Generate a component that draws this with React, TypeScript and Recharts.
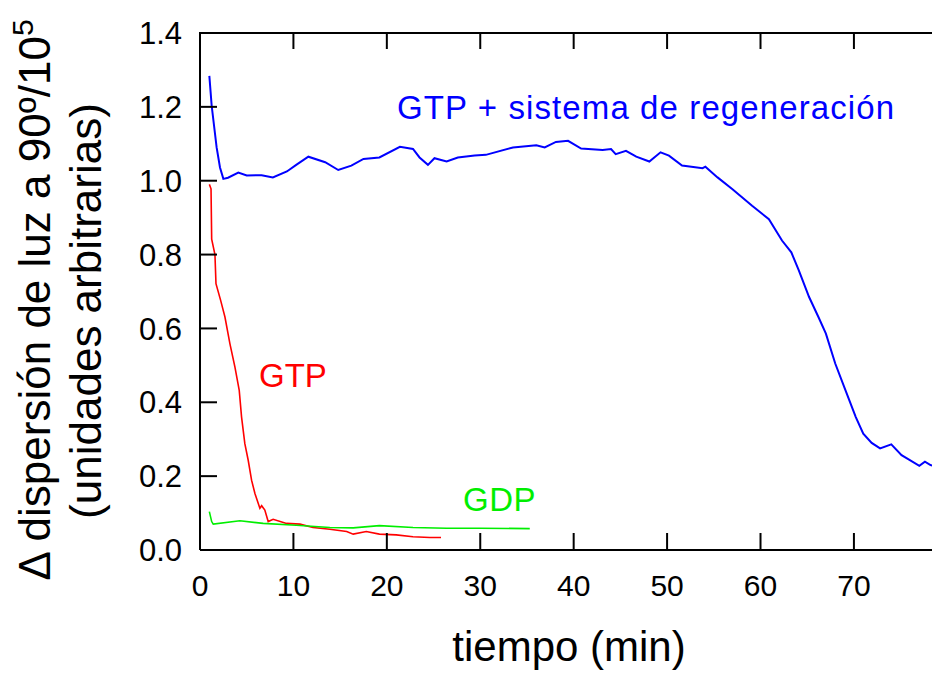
import { LineChart, Line, XAxis, YAxis } from "recharts";

// GTP + sistema de regeneración (blue)
const regenTime = [1.0, 1.25, 1.78, 2.14, 2.5, 3.0, 4.1, 5.0, 6.6, 7.8, 9.3, 10.3, 11.6, 13.4, 14.8, 16.2, 17.5, 19.2, 21.4, 22.8, 23.5, 24.4, 25.1, 26.4, 27.6, 29.4, 30.6, 33.5, 36.0, 36.9, 38.1, 39.4, 40.8, 43.1, 44.0, 44.5, 45.6, 46.7, 48.1, 49.3, 50.2, 51.6, 53.8, 54.1, 55.4, 57.0, 59.1, 60.9, 62.3, 63.3, 64.1, 65.2, 66.2, 67.0, 68.0, 69.1, 70.2, 71.0, 71.9, 72.8, 74.0, 75.1, 75.9, 77.0, 77.6, 78.2, 79.0];
const regenValue = [1.284, 1.203, 1.09, 1.036, 1.005, 1.008, 1.022, 1.014, 1.015, 1.009, 1.025, 1.043, 1.065, 1.05, 1.029, 1.041, 1.059, 1.063, 1.092, 1.086, 1.063, 1.043, 1.061, 1.052, 1.063, 1.068, 1.07, 1.09, 1.096, 1.09, 1.105, 1.108, 1.087, 1.083, 1.086, 1.072, 1.081, 1.065, 1.052, 1.077, 1.068, 1.041, 1.034, 1.038, 1.009, 0.977, 0.932, 0.896, 0.838, 0.806, 0.757, 0.685, 0.631, 0.586, 0.505, 0.432, 0.36, 0.315, 0.29, 0.275, 0.286, 0.257, 0.245, 0.228, 0.239, 0.23, 0.225];

// GTP (red)
const gtpTime = [1.0, 1.18, 1.25, 1.6, 1.71, 2.21, 2.67, 3.2, 3.74, 4.2, 4.45, 4.8, 5.16, 5.52, 5.88, 6.41, 6.6, 6.94, 7.3, 7.83, 9.26, 10.7, 12.1, 13.9, 15.7, 16.4, 17.8, 19.2, 21.0, 22.8, 24.6, 25.8];
const gtpValue = [0.99, 0.978, 0.842, 0.8, 0.721, 0.676, 0.631, 0.559, 0.495, 0.432, 0.36, 0.288, 0.243, 0.189, 0.153, 0.113, 0.12, 0.108, 0.077, 0.083, 0.072, 0.07, 0.061, 0.056, 0.05, 0.043, 0.05, 0.043, 0.041, 0.036, 0.034, 0.034];

// GDP (green)
const gdpTime = [1.0, 1.25, 1.42, 4.27, 6.76, 10.3, 13.9, 16.4, 19.2, 22.8, 26.4, 29.9, 35.3];
const gdpValue = [0.104, 0.077, 0.07, 0.079, 0.072, 0.067, 0.061, 0.06, 0.066, 0.061, 0.059, 0.059, 0.058];

const xTicks = [0, 10, 20, 30, 40, 50, 60, 70];
const yTicks = [0, 0.2, 0.4, 0.6, 0.8, 1.0, 1.2, 1.4];

const toPoints = (ts: number[], vs: number[]) => ts.map((t, i) => ({ t, v: vs[i] }));

const FONT = "'Liberation Sans', Arial, sans-serif";

// plot box (fixed by margins below)
const LEFT = 200;
const RIGHT = 939;
const TOP = 32;
const BOTTOM = 550;
const TICK = 17;

const LeftTick = (props: any) => {
  const { y, payload } = props;
  return (
    <g>
      <path d={`M${LEFT},${y}h${TICK}`} stroke="#000" strokeWidth={2} fill="none" />
      <text x={LEFT - 18} y={y} dy="0.36em" textAnchor="end" fontSize={31} fontFamily={FONT} fill="#000">
        {Number(payload.value).toFixed(1)}
      </text>
    </g>
  );
};

const BottomTick = (props: any) => {
  const { x, payload } = props;
  return (
    <g>
      <path d={`M${x},${BOTTOM}v${-TICK}`} stroke="#000" strokeWidth={2} fill="none" />
      <text x={x} y={574} dy="0.72em" textAnchor="middle" fontSize={30} fontFamily={FONT} fill="#000">
        {payload.value}
      </text>
    </g>
  );
};

const TopTick = (props: any) => {
  const { x } = props;
  return <path d={`M${x},${TOP}v${TICK}`} stroke="#000" strokeWidth={2} fill="none" />;
};

const RightTick = (props: any) => {
  const { y } = props;
  return <path d={`M${RIGHT},${y}h${-TICK}`} stroke="#000" strokeWidth={2} fill="none" />;
};

export default function App() {
  const regen = toPoints(regenTime, regenValue);
  const gtp = toPoints(gtpTime, gtpValue);
  const gdp = toPoints(gdpTime, gdpValue);

  return (
    <div style={{ position: "fixed", left: 0, top: 0, width: 932, height: 679, overflow: "hidden", background: "#fff" }}>
      <LineChart width={950} height={679} margin={{ top: TOP, right: 950 - RIGHT, left: LEFT - 60, bottom: 679 - BOTTOM - 60 }}>
        <XAxis
          xAxisId="bottom"
          dataKey="t"
          type="number"
          domain={[0, 79]}
          ticks={xTicks}
          allowDataOverflow
          height={60}
          tickLine={false}
          tick={<BottomTick />}
          stroke="#000"
          strokeWidth={2}
        />
        <XAxis
          xAxisId="top"
          orientation="top"
          dataKey="t"
          type="number"
          domain={[0, 79]}
          ticks={xTicks}
          allowDataOverflow
          height={1}
          tickLine={false}
          tick={<TopTick />}
          stroke="#000"
          strokeWidth={2}
        />
        <YAxis
          yAxisId="left"
          type="number"
          domain={[0, 1.4]}
          ticks={yTicks}
          width={60}
          tickLine={false}
          tick={<LeftTick />}
          stroke="#000"
          strokeWidth={2}
        />
        <YAxis
          yAxisId="right"
          orientation="right"
          type="number"
          domain={[0, 1.4]}
          ticks={yTicks}
          width={1}
          tickLine={false}
          tick={<RightTick />}
          stroke="#000"
          strokeWidth={2}
        />
        <Line data={regen} xAxisId="bottom" yAxisId="left" dataKey="v" type="linear" stroke="#0000ff" strokeWidth={2} dot={false} isAnimationActive={false} />
        <Line data={gtp} xAxisId="bottom" yAxisId="left" dataKey="v" type="linear" stroke="#ff0000" strokeWidth={1.6} dot={false} isAnimationActive={false} />
        <Line data={gdp} xAxisId="bottom" yAxisId="left" dataKey="v" type="linear" stroke="#00ee00" strokeWidth={1.6} dot={false} isAnimationActive={false} />
      </LineChart>
      <svg width={932} height={679} style={{ position: "absolute", left: 0, top: 0, pointerEvents: "none" }} fontFamily={FONT}>
        <text x={397} y={119} fontSize={33} letterSpacing={1.1} fill="#0000ff">GTP + sistema de regeneración</text>
        <text x={259} y={387} fontSize={33} fill="#ff0000">GTP</text>
        <text x={463} y={511} fontSize={33} letterSpacing={0.5} fill="#00ee00">GDP</text>
        <text x={569} y={661} fontSize={42} textAnchor="middle" fill="#000">tiempo (min)</text>
        <text transform="translate(50,300) rotate(-90)" fontSize={44} textAnchor="middle" fill="#000">
          Δ dispersión de luz a 90º/10<tspan fontSize={30} dy={-17}>5</tspan>
        </text>
        <text transform="translate(101,311) rotate(-90)" fontSize={44} textAnchor="middle" fill="#000">
          (unidades arbitrarias)
        </text>
      </svg>
    </div>
  );
}
